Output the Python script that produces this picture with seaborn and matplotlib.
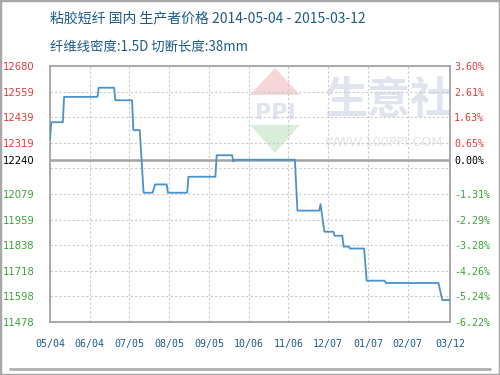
import matplotlib
matplotlib.use("Agg")
import matplotlib.pyplot as plt
import matplotlib.dates as mdates
import seaborn as sns
import pandas as pd
from matplotlib.patches import Polygon, Rectangle
from matplotlib.lines import Line2D

# ---- data ----
dates = ["2014-05-04", "2014-05-05", "2014-05-14", "2014-05-15", "2014-06-10", "2014-06-11",
         "2014-06-23", "2014-06-24", "2014-07-07", "2014-07-08", "2014-07-13", "2014-07-16",
         "2014-07-23", "2014-07-25", "2014-08-03", "2014-08-04", "2014-08-19", "2014-08-20",
         "2014-09-10", "2014-09-11", "2014-09-23", "2014-09-24", "2014-09-25", "2014-11-11",
         "2014-11-13", "2014-11-30", "2014-12-01", "2014-12-04", "2014-12-11", "2014-12-12",
         "2014-12-18", "2014-12-19", "2014-12-23", "2014-12-24", "2015-01-04", "2015-01-06",
         "2015-01-20", "2015-01-21", "2015-03-03", "2015-03-06", "2015-03-12"]
prices = [12333, 12416, 12416, 12535, 12535, 12578,
          12578, 12519, 12519, 12379, 12379, 12085,
          12085, 12124, 12124, 12085, 12085, 12160,
          12160, 12261, 12261, 12232, 12240, 12240,
          12001, 12001, 12031, 11902, 11902, 11883,
          11883, 11832, 11832, 11823, 11823, 11672,
          11672, 11661, 11661, 11581, 11581]

base_price = 12240
grid_values = [11478, 11598, 11718, 11838, 11959, 12079, 12199, 12319, 12439, 12559, 12680]
left_ticks = [11478, 11598, 11718, 11838, 11959, 12079, 12240, 12319, 12439, 12559, 12680]
right_labels = ["-6.22%", "-5.24%", "-4.26%", "-3.28%", "-2.29%", "-1.31%", "0.00%",
                "0.65%", "1.63%", "2.61%", "3.60%"]
xtick_dates = ["2014-05-04", "2014-06-04", "2014-07-05", "2014-08-05", "2014-09-05",
               "2014-10-06", "2014-11-06", "2014-12-07", "2015-01-07", "2015-02-07", "2015-03-12"]
xtick_labels = ["05/04", "06/04", "07/05", "08/05", "09/05", "10/06",
                "11/06", "12/07", "01/07", "02/07", "03/12"]

title1 = "粘胶短纤 国内 生产者价格 2014-05-04 - 2015-03-12"
title2 = "纤维线密度:1.5D 切断长度:38mm"

# ---- styling ----
sns.set_style("white")
plt.rcParams['font.family'] = ['Noto Sans CJK SC', 'DejaVu Sans']

RED = "#e33b3b"
GREEN = "#3aa23a"
BLUE_TXT = "#1d5b8c"
LINE = "#4a92c9"
GRAY = "#a3a3a3"

fig = plt.figure(figsize=(5, 3.75), dpi=100)
ax = fig.add_axes([50 / 500, 1 - 322 / 375, 400 / 500, 256 / 375])

df = pd.DataFrame({"date": pd.to_datetime(dates), "price": prices})
xt = pd.to_datetime(xtick_dates)

ax.set_xlim(df["date"].iloc[0], df["date"].iloc[-1])
ax.set_ylim(grid_values[0], grid_values[-1])

# grid
for g in grid_values[1:-1]:
    ax.axhline(g, color="#c9c9c9", lw=0.8, ls=(0, (2, 2)), zorder=1)
for d in xt[1:]:
    ax.axvline(d, color="#c9c9c9", lw=0.8, ls=(0, (2, 2)), zorder=1)

# watermark
ax.add_patch(Polygon([(0.5, 0.887), (0.625, 0.887), (0.5625, 0.992)], closed=True,
                     transform=ax.transAxes, color="#f6d6d6", zorder=0, lw=0))
ax.add_patch(Polygon([(0.5, 0.770), (0.625, 0.770), (0.5625, 0.660)], closed=True,
                     transform=ax.transAxes, color="#d9eed9", zorder=0, lw=0))
ax.text(0.5625, 0.816, "PPI", transform=ax.transAxes, ha="center", va="center",
        fontsize=16, fontweight="bold", color="#dfe4ee", family="DejaVu Sans", zorder=0)
ax.text(0.6875, 0.867, "生意社", transform=ax.transAxes, ha="left", va="center",
        fontsize=31, fontweight="bold", color="#dfe4ee", zorder=0, clip_on=True)
ax.text(0.6875, 0.703, "WWW.100PPI.COM", transform=ax.transAxes, ha="left", va="center",
        fontsize=9.2, color="#e4e4e4", family="DejaVu Sans", zorder=0)

# base line
ax.axhline(base_price, color=GRAY, lw=1.8, zorder=2)

sns.lineplot(data=df, x="date", y="price", ax=ax, color=LINE, lw=1.3,
             estimator=None, sort=False, zorder=3)

ax.set_xlabel("")
ax.set_ylabel("")
for s in ax.spines.values():
    s.set_color(GRAY)
    s.set_linewidth(1.3)

ax.set_xticks(xt)
ax.set_xticklabels(xtick_labels, family="DejaVu Sans Mono", fontsize=7.2, color=BLUE_TXT)
ax.set_yticks(left_ticks)
ax.set_yticklabels([str(v) for v in left_ticks], family="DejaVu Sans", fontsize=7.2)
for lab, v in zip(ax.get_yticklabels(), left_ticks):
    lab.set_color(RED if v > base_price else ("black" if v == base_price else GREEN))
ax.tick_params(axis="x", length=0, pad=12)
ax.tick_params(axis="y", length=0, pad=11)

ax2 = ax.twinx()
ax2.set_ylim(ax.get_ylim())
ax2.set_yticks(left_ticks)
ax2.set_yticklabels(right_labels, family="DejaVu Sans Mono", fontsize=7.2)
for lab, v in zip(ax2.get_yticklabels(), left_ticks):
    lab.set_color(RED if v > base_price else ("black" if v == base_price else GREEN))
ax2.tick_params(axis="y", length=0, pad=3)
for s in ax2.spines.values():
    s.set_visible(False)

# titles
fig.text(50 / 500, 1 - 18 / 375, title1, ha="left", va="center", fontsize=10, color=BLUE_TXT)
fig.text(50 / 500, 1 - 47 / 375, title2, ha="left", va="center", fontsize=9.6, color=BLUE_TXT)

# frame and footer line
fig.add_artist(Rectangle((0, 0), 1, 1, transform=fig.transFigure, fill=False,
                         edgecolor="#a8a8a8", lw=2.5))
fig.add_artist(Line2D([10 / 500, 490 / 500], [1 - 369 / 375] * 2, transform=fig.transFigure,
                      color="#b0b0b0", lw=2))

fig.savefig("out.png", dpi=100)
